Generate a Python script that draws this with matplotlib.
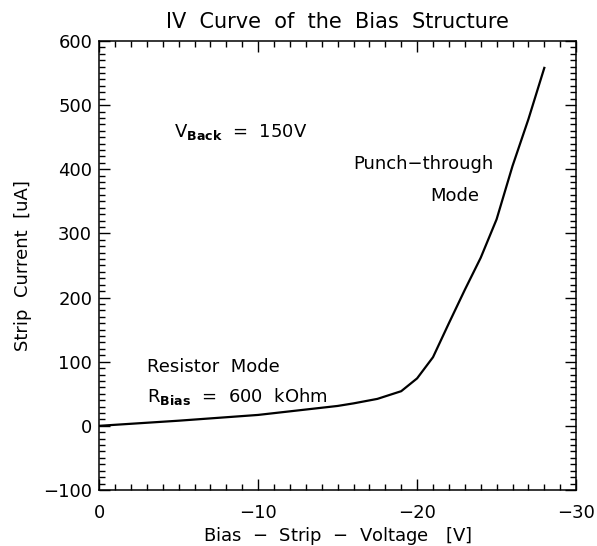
import matplotlib
matplotlib.use("Agg")
import matplotlib.pyplot as plt
from matplotlib.ticker import MultipleLocator

# IV curve of the bias structure (voltage in V, current in uA)
voltage = [0, -5, -10, -12.5, -15, -16, -17.5, -19, -20, -21, -22, -23, -24, -25, -26, -27, -28]
current = [0, 8, 17, 24, 31, 35, 42, 54, 74, 107, 160, 212, 262, 322, 405, 478, 558]

x_ticks = [0, -10, -20, -30]
y_ticks = [-100, 0, 100, 200, 300, 400, 500, 600]

plt.rcParams['font.family'] = ['DejaVu Sans']
fig = plt.figure(figsize=(5.97, 5.46), dpi=100)
ax = fig.add_axes([0.166, 0.1026, 0.799, 0.8224])

ax.plot(voltage, current, color="black", linewidth=1.6)

ax.set_xlim(0, -30)
ax.set_ylim(-100, 600)
ax.set_xticks(x_ticks)
ax.set_yticks(y_ticks)
ax.xaxis.set_minor_locator(MultipleLocator(1))
ax.yaxis.set_minor_locator(MultipleLocator(10))
ax.tick_params(which="both", direction="in", top=True, right=True,
               labelsize=13, width=1.0)
ax.tick_params(which="major", length=8)
ax.tick_params(which="minor", length=4)
ax.tick_params(axis="x", pad=10)
ax.tick_params(axis="y", pad=5)
for s in ax.spines.values():
    s.set_linewidth(1.1)

ax.set_title("IV  Curve  of  the  Bias  Structure", fontsize=15, pad=9)
ax.set_xlabel("Bias  $-$  Strip  $-$  Voltage   [V]", fontsize=13, labelpad=2)
ax.set_ylabel("Strip  Current  [uA]", fontsize=13, labelpad=8)

fs = 13
ax.text(-4.7, 458, r"V$_{\mathbf{Back}}$  =  150V", fontsize=fs, va="center")
ax.text(-16.0, 408, "Punch\u2212through", fontsize=fs, va="center")
ax.text(-20.8, 358, "Mode", fontsize=fs, va="center")
ax.text(-3.0, 91, "Resistor  Mode", fontsize=fs, va="center")
ax.text(-3.0, 45, r"R$_{\mathbf{Bias}}$  =  600  kOhm", fontsize=fs, va="center")

fig.savefig("out.png", dpi=100)
